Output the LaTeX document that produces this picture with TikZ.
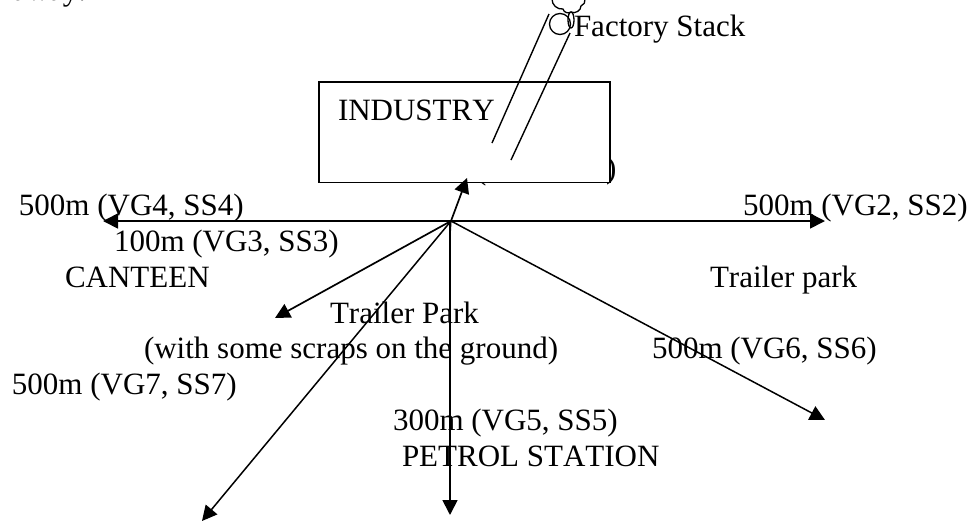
\documentclass[tikz,border=0pt]{standalone}
\usepackage{fontspec}
\setmainfont[Kerning=Off]{Liberation Serif}
\usetikzlibrary{arrows.meta,shapes.geometric}
\tikzset{
  lbl/.style={anchor=base west,inner sep=0pt,outer sep=0pt,font=\fontsize{31}{33}\selectfont},
  conn/.style={line width=1.7pt,-{Triangle[length=15pt,width=15pt]}},
  thinconn/.style={line width=1.5pt,-{Triangle[length=15pt,width=15pt]}},
  stackline/.style={line width=1.4pt},
  boxstyle/.style={draw,line width=1.5pt,fill=white,minimum width=291pt,minimum height=100.5pt,inner sep=0pt,anchor=north west}
}
\begin{document}
\begin{tikzpicture}[x=1pt,y=-1pt]
\useasboundingbox (0,0) rectangle (970,520);
\node[lbl] (away) at (13,0) {away.};
\node[lbl] (hidA) at (476,179) {(};
\node[lbl] (hidB) at (541,178) {,};
\node[lbl] (hidC) at (606,178) {)};
\node[boxstyle] (industry) at (318,81) {};
\node[lbl] (industrylbl) at (338,120) {INDUSTRY};
\node[lbl] (factory) at (574,36) {Factory Stack};
\node[lbl] (l4) at (19,215) {500m (VG4, SS4)};
\node[lbl] (l2) at (743,215) {500m (VG2, SS2)};
\node[lbl] (l3) at (114,251) {100m (VG3, SS3)};
\node[lbl] (canteen) at (65,287) {CANTEEN};
\node[lbl] (tp2) at (710,287) {Trailer park};
\node[lbl] (tp1) at (330,323) {Trailer Park};
\node[lbl] (scraps) at (144,358) {(with some scraps on the ground)};
\node[lbl] (l6) at (652,358) {500m (VG6, SS6)};
\node[lbl] (l7) at (12,394) {500m (VG7, SS7)};
\node[lbl] (l5) at (393,430) {300m (VG5, SS5)};
\node[lbl] (petrol) at (402,466) {PETROL STATION};
\coordinate (hub) at (451,221);
\coordinate (eW) at (103,221);
\coordinate (eE) at (825,221);
\coordinate (eN) at (467,178);
\coordinate (eSWs) at (275,318);
\coordinate (eSWl) at (202,521);
\coordinate (eS) at (450,515);
\coordinate (eSE) at (825,420);
\coordinate (vtop) at (450,223);
\coordinate (tick) at (450,237);
\draw[conn] (hub) -- (eW);
\draw[conn] (hub) -- (eE);
\draw[conn] (hub) -- (eN);
\draw[conn] (hub) -- (eSWs);
\draw[thinconn] (hub) -- (eSWl);
\draw[conn] (vtop) -- (eS);
\draw[thinconn] (hub) -- (eSE);
\draw[line width=1.2pt] (hub) -- (tick);
\coordinate (s1a) at (492,143);
\coordinate (s1b) at (549,14);
\coordinate (s2a) at (511,160);
\coordinate (s2b) at (570,33);
\draw[stackline] (s1a) -- (s1b);
\draw[stackline] (s2a) -- (s2b);
\node[draw,circle,line width=1.3pt,minimum size=21pt,inner sep=0pt] (stack) at (560,24) {};
\node[draw,ellipse,line width=1.3pt,minimum width=6pt,minimum height=16pt,inner sep=0pt] (plug) at (571,20) {};
\draw[line width=1.3pt] (552,-1) to[bend right=50] (563,9) to[bend right=60] (571,12) to[bend right=60] (581,6) to[bend right=40] (585,-1);
\end{tikzpicture}
\end{document}
